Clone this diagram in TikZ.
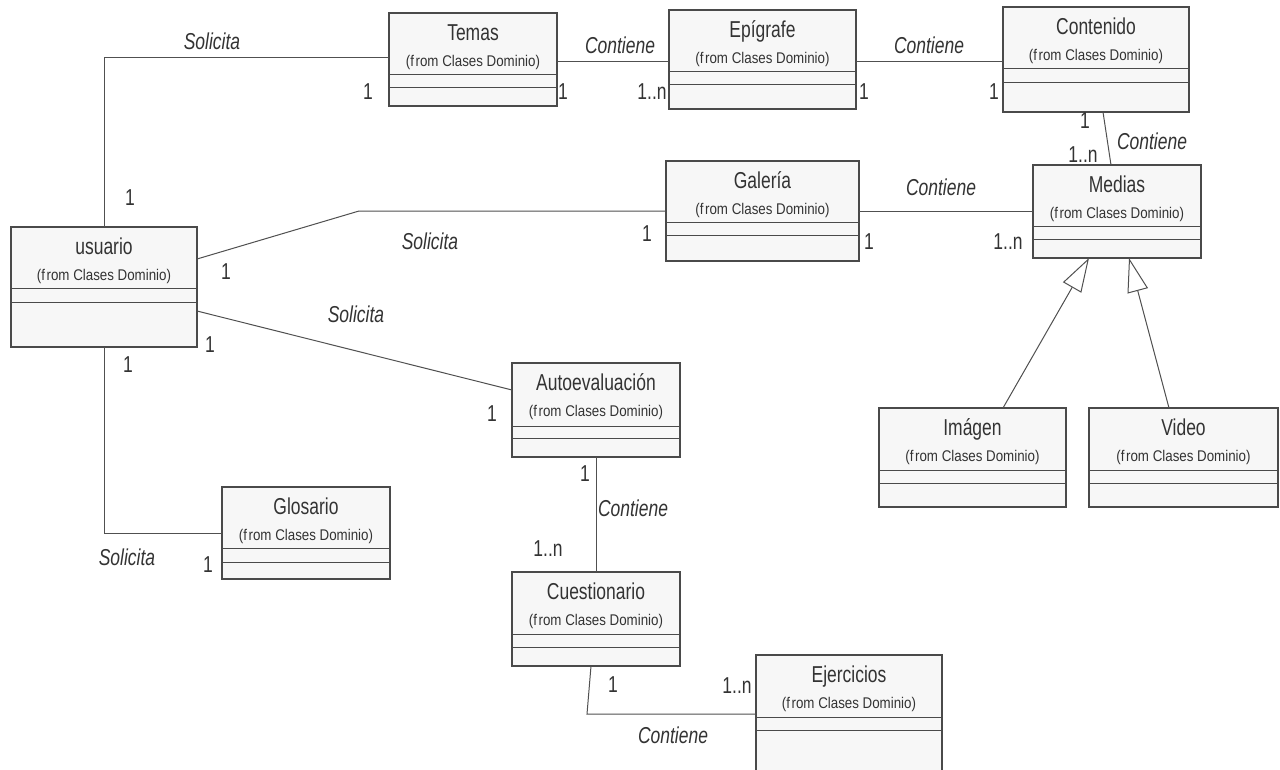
\documentclass[tikz,border=0pt]{standalone}
\usepackage{fontspec}
\setmainfont{Liberation Sans}[FakeStretch=0.76]
\newfontfamily\fromfont{Liberation Sans}[FakeStretch=0.86]
\usetikzlibrary{arrows.meta}

\definecolor{boxfill}{HTML}{F7F7F7}
\definecolor{boxline}{HTML}{4A4A4A}
\definecolor{wire}{HTML}{505050}
\definecolor{ink}{HTML}{333333}

% One UML class: id, left, top, right, bottom, first separator, second separator, title
\newcommand{\umlclass}[8]{%
  \node[classbox, minimum width={(#4-#2)*1pt}, minimum height={(#5-#3)*1pt}]
    (#1) at ({(#2+#4)/2},{(#3+#5)/2}) {};
  \draw[classsep] ([yshift={-(#6-#3)*1pt}]#1.north west) -- ([yshift={-(#6-#3)*1pt}]#1.north east);
  \draw[classsep] ([yshift={-(#7-#3)*1pt}]#1.north west) -- ([yshift={-(#7-#3)*1pt}]#1.north east);
  \node[classname] (#1-name) at ([yshift=-27.5pt]#1.north) {#8};
  \node[classfrom] (#1-from) at ([yshift=-53pt]#1.north) {(f\kern1.5pt rom Clases Dominio)};
}

\tikzset{
  classbox/.style={draw=boxline, fill=boxfill, line width=1.1pt, inner sep=0pt, outer sep=0pt, rectangle},
  classsep/.style={draw=boxline, line width=1pt},
  classname/.style={anchor=base, inner sep=0pt, text=ink, font=\fontsize{23}{26}\selectfont},
  classfrom/.style={anchor=base, inner sep=0pt, text=ink, font=\fromfont\fontsize{15.5}{18}\selectfont},
  assoc/.style={draw=wire, line width=1pt},
  gen/.style={draw=wire, line width=1pt, -{Triangle[length=34pt, width=21pt, fill=white, line width=1pt]}},
  mult/.style={inner sep=0pt, text=ink, font=\fontsize{23}{26}\selectfont},
  rolename/.style={inner sep=0pt, text=ink, font=\fontsize{23}{26}\selectfont\itshape},
}

\begin{document}
\begin{tikzpicture}[x=1pt, y=-1pt]
  \useasboundingbox (0,0) rectangle (1280,769);
  \fill[white] (0,0) rectangle (1280,769);
  \clip (0,0) rectangle (1280,769);

  % classes
  \umlclass{usuario}{11}{227}{197}{347}{288}{302}{usuario}
  \umlclass{temas}{389}{13}{557}{106}{74}{87}{Temas}
  \umlclass{epigrafe}{669}{10}{856}{109}{71}{84}{Epígrafe}
  \umlclass{contenido}{1003}{7}{1189}{112}{68}{82}{Contenido}
  \umlclass{galeria}{666}{161}{859}{261}{222}{235}{Galería}
  \umlclass{medias}{1033}{165}{1201}{258}{226}{239}{Medias}
  \umlclass{autoeval}{512}{363}{680}{457}{426}{438}{Autoevaluación}
  \umlclass{glosario}{222}{487}{390}{579}{548}{562}{Glosario}
  \umlclass{cuestionario}{512}{572}{680}{666}{634}{647}{Cuestionario}
  \umlclass{ejercicios}{756}{655}{942}{800}{717}{730}{Ejercicios}
  \umlclass{imagen}{879}{408}{1066}{507}{470}{483}{Imágen}
  \umlclass{video}{1089}{408}{1278}{507}{470}{483}{Video}

  % bend points
  \coordinate (bendGal) at (359,211);
  \coordinate (bendEje) at (587,714);

  % associations
  \draw[assoc] (usuario.north) |- ([yshift=2.5pt]temas.west);
  \draw[assoc] ([yshift=-1.5pt]temas.east) -- ([yshift=-1.5pt]epigrafe.west);
  \draw[assoc] ([yshift=-1.5pt]epigrafe.east) -- ([yshift=-1.5pt]epigrafe.east -| contenido.west);
  \draw[assoc] ([xshift=7pt]contenido.south) -- ([xshift=-6pt]medias.north);
  \draw[assoc] ([yshift=28pt]usuario.east) -- (bendGal) -- (galeria.west);
  \draw[assoc] (galeria.east) -- (galeria.east -| medias.west);
  \draw[assoc] ([yshift=-24pt]usuario.east) -- ([yshift=20pt]autoeval.west);
  \draw[assoc] (usuario.south) |- (glosario.west);
  \draw[assoc] (autoeval.south) -- (cuestionario.north);
  \draw[assoc] ([xshift=-5pt]cuestionario.south) -- (bendEje) -- (bendEje -| ejercicios.west);

  % generalizations
  \draw[gen] ([xshift=30.5pt]imagen.north) -- ([xshift=-28pt]medias.south);
  \draw[gen] ([xshift=-14.5pt]video.north) -- ([xshift=12pt]medias.south);

  % role names
  \node[rolename] (r1) at (212,41) {Solicita};
  \node[rolename] (r2) at (620,45) {Contiene};
  \node[rolename] (r3) at (929,45) {Contiene};
  \node[rolename] (r4) at (1152,141) {Contiene};
  \node[rolename] (r5) at (430,241) {Solicita};
  \node[rolename] (r6) at (941,187) {Contiene};
  \node[rolename] (r7) at (356,314) {Solicita};
  \node[rolename] (r8) at (127,557) {Solicita};
  \node[rolename] (r9) at (633,508) {Contiene};
  \node[rolename] (r10) at (673,735) {Contiene};

  % multiplicities
  \node[mult] (m1) at (368,92) {1};
  \node[mult] (m2) at (130,198) {1};
  \node[mult] (m3) at (563,92) {1};
  \node[mult] (m4) at (652,92) {1..n};
  \node[mult] (m5) at (864,92) {1};
  \node[mult] (m6) at (994,92) {1};
  \node[mult] (m7) at (1085,121) {1};
  \node[mult] (m8) at (1083,155) {1..n};
  \node[mult] (m9) at (226,272) {1};
  \node[mult] (m10) at (647,234) {1};
  \node[mult] (m11) at (869,242) {1};
  \node[mult] (m12) at (1008,242) {1..n};
  \node[mult] (m13) at (210,345) {1};
  \node[mult] (m14) at (492,414) {1};
  \node[mult] (m15) at (128,365) {1};
  \node[mult] (m16) at (208,565) {1};
  \node[mult] (m17) at (585,474) {1};
  \node[mult] (m18) at (548,549) {1..n};
  \node[mult] (m19) at (613,685) {1};
  \node[mult] (m20) at (737,686) {1..n};
\end{tikzpicture}
\end{document}
